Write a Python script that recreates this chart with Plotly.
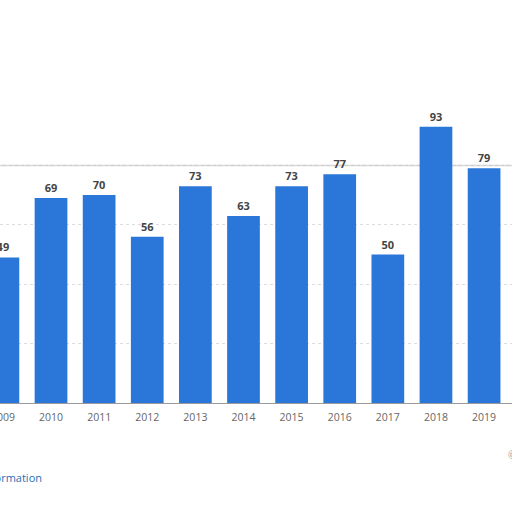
"""
Yearly values bar chart (Statista-style crop), 2009-2019.
"""

import plotly.graph_objects as go

years = [2009, 2010, 2011, 2012, 2013, 2014, 2015, 2016, 2017, 2018, 2019]
values = [49, 69, 70, 56, 73, 63, 73, 77, 50, 93, 79]
year_labels = [str(y) for y in years]
grid_vals = [20, 40, 60, 80]

BAR_COLOR = "#2a77d9"

fig = go.Figure(
    go.Bar(
        x=years,
        y=values,
        width=0.68,
        marker_color=BAR_COLOR,
        marker_line_width=0,
        text=[str(v) for v in values],
        textposition="outside",
        cliponaxis=False,
        textfont=dict(family="Open Sans", size=11, color="#444444", weight="bold"),
    )
)

# top gridline is drawn a bit stronger in the original
fig.add_shape(type="line", xref="paper", x0=0, x1=1, yref="y", y0=80, y1=80,
              line=dict(color="#cccccc", width=1.5), layer="below")

fig.update_layout(
    width=512,
    height=512,
    margin=dict(l=0, r=0, t=106, b=109, autoexpand=False),
    paper_bgcolor="white",
    plot_bgcolor="white",
    showlegend=False,
    xaxis=dict(
        range=[2008.94, 2019.58],
        tickvals=years,
        ticktext=year_labels,
        showgrid=False,
        showline=True,
        linecolor="#9a9a9a",
        linewidth=1,
        ticks="",
        automargin=False,
        ticklabelstandoff=4,
        ticklabeloverflow="allow",   # keep the half-cut 2009 label
        tickfont=dict(family="Open Sans", size=10.5, color="#666666"),
    ),
    yaxis=dict(
        range=[0, 100],
        tickvals=grid_vals,
        showticklabels=False,
        showgrid=True,
        gridcolor="#dddddd",
        griddash="dot",
        zeroline=False,
        automargin=False,
    ),
    annotations=[
        dict(text="Additional Information", xref="paper", yref="paper",
             x=0.085, y=-0.25, xanchor="right", yanchor="middle",
             showarrow=False,
             font=dict(family="Open Sans", size=11, color="#1f6fb5")),
        dict(text="©", xref="paper", yref="paper",
             x=1.0, y=-0.175, xanchor="center", yanchor="middle",
             showarrow=False,
             font=dict(family="Open Sans", size=10, color="#999999")),
    ],
)

# drop the default 8px page margin so the figure sits at the window corner
fig.write_html("out.html", config={"displayModeBar": False},
               post_script="document.body.style.margin = '0';")
